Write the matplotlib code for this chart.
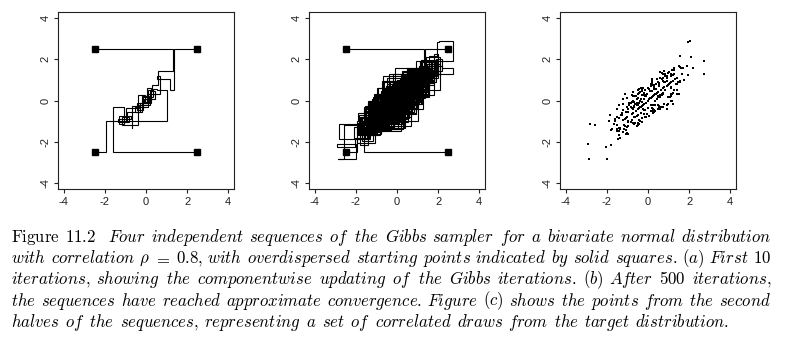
import re
import numpy as np
import matplotlib
matplotlib.use('Agg')
import matplotlib.pyplot as plt

plt.rcParams['font.family'] = 'Liberation Sans'
plt.rcParams['mathtext.fontset'] = 'cm'
plt.rcParams['axes.unicode_minus'] = False

# Four Gibbs chains, bivariate normal with rho = 0.8.
# Element 0 is the overdispersed starting point, then one (x, y) per iteration.
chain1_x = [-2.5, -1.95, 1.00, 0.55, 0.35, -0.15, -0.45, 0.05, 0.20, -0.35, -0.70,
            -0.60, -1.80, 0.20, 1.35, -0.80, 1.15, 1.80, -0.70, -1.55, 0.40,
            -1.25, -1.75, 0.10, -0.90, 1.20, 0.75, -1.05, 0.85, 1.95, 1.10,
            -0.50, -0.60, -0.70, -1.70, -2.10, -0.15, -0.25, 1.15, -0.60, 0.70,
            1.50, -0.40, -0.20, -1.75, -0.35, 0.80, -0.80, 0.50, 1.70, 2.00,
            0.25, 0.40, -1.10, 0.40, -0.15, 1.15, -0.60, -1.55, -1.30, -0.75,
            0.00, -1.15, 0.60, 1.45, -0.35, 1.00, -0.65, -0.50, -0.90, -1.55,
            0.60, -0.60, 0.80, 0.40, -1.20, -0.85, 0.60, -0.60, -1.75, -1.85,
            0.35, -0.75, 1.10, 0.20, -0.10, -0.50, 1.10, -0.45, -0.30, 1.15,
            1.50, -0.55, -1.40, 0.35, -1.40, -1.05, 0.60, 1.70, 0.90, 0.40,
            -0.10, -1.10, -0.25, 1.25, -0.50, -0.30, -1.65, 0.25, 0.45, 0.50,
            -0.90, -1.00, -1.80, -1.40, 0.30, 1.40, -0.50, 0.85, 2.10, 1.40,
            -0.20, -0.35, 0.00, -1.35, -0.20, 1.20, -0.80, -1.20, 0.80, 0.35,
            0.20, 1.20, 0.50, -0.95, -0.95, -0.80, 0.75, -0.75, 0.80, 1.65,
            -0.20, -0.50, -0.55, -0.65, -1.50, 0.20, 0.20, 1.25, 0.50, -0.85,
            0.55, -1.20, -0.50, 1.10, 0.00, 0.90, -0.75, -0.60, 0.75, 0.20]
chain1_y = [-2.5, -1.00, 0.50, 0.55, 0.15, -0.45, -0.10, 0.30, -0.20, -0.25, -1.35,
            -1.40, -0.85, 0.95, 0.10, 0.45, 1.40, 0.25, -0.95, -0.25, -0.80,
            -1.70, -1.10, -0.50, 0.60, 1.55, -0.30, -0.05, 1.20, 1.85, 0.10,
            -1.10, 0.40, -1.15, -1.85, -1.30, -0.80, 0.70, 0.60, -0.10, 1.25,
            0.40, -0.90, -1.05, -0.80, 0.50, -0.25, -0.25, 1.00, 1.85, 1.30,
            0.90, -0.60, -0.60, 0.80, 0.70, 0.40, -1.30, -1.85, -0.05, -1.00,
            -0.30, 0.00, 1.30, 0.55, 0.40, -0.20, -1.40, -0.10, -1.20, -0.35,
            0.10, 0.40, 1.25, -0.40, -1.55, 0.10, 0.00, -1.30, -1.70, -0.70,
            0.00, 0.40, 0.90, 0.75, -0.10, 0.10, 0.20, -1.15, -0.05, 1.50,
            0.30, -0.10, -0.20, 0.00, -1.70, -0.85, 1.40, 1.60, -0.40, 0.30,
            -0.10, 0.30, -0.40, 0.50, -0.10, -1.05, -1.15, -0.20, 0.35, -0.40,
            -0.10, -0.80, -2.15, -0.85, 0.75, 1.10, 0.30, 0.50, 2.10, 0.80,
            -0.45, 0.60, 0.00, -1.40, 0.05, -0.15, -0.65, -0.15, 0.90, -0.50,
            0.85, 1.25, -0.20, -1.00, -1.65, -0.65, -0.30, -0.40, 1.45, 1.30,
            -0.15, -1.20, -0.20, -1.10, -1.50, -0.35, 0.15, 1.60, 0.20, -0.30,
            -0.35, -0.95, 0.50, 0.60, 0.60, 0.95, -1.10, -0.50, 1.10, 0.45]

chain2_x = [2.5, -1.60, -1.05, -1.30, -0.75, -1.35, -0.90, -0.20, 0.15, -0.05, -0.40,
            -1.10, 0.65, -1.00, -1.60, 0.50, 0.40, -1.20, -1.90, -0.20, -1.15,
            0.80, 0.60, -1.20, 0.00, -1.35, -1.95, -1.05, 0.05, 0.25, 1.40,
            0.30, -0.85, -0.80, -0.70, 0.90, -0.55, -0.70, -1.70, 0.20, 0.00,
            -1.30, 0.20, -1.25, -1.95, -0.60, -0.15, 1.00, -0.70, -1.25, 0.60,
            -0.20, -1.10, -0.95, 0.65, -0.80, 0.50, 1.40, 1.90, -0.20, -0.40,
            -1.65, -0.85, -0.80, -0.45, 0.70, -0.90, 0.65, 0.40, -1.30, -1.10,
            -0.60, 0.95, 0.20, -0.90, -1.60, 0.35, -0.90, 0.65, 0.55, -1.00,
            -0.75, -1.90, -0.20, -1.20, -0.45, 1.05, -0.80, -1.35, -2.05, -2.90,
            -2.00, -2.85, -2.60, -1.45, -2.80, -0.30, -1.35, 0.40, -0.95, -0.50,
            0.90, -0.55, -0.55, -0.80, -0.95, -1.50, 0.30, -0.90, 0.75, 1.10,
            -0.70, -1.60, -0.75, -0.35, -1.20, 0.35, 1.10, -0.65, -1.60, -0.20,
            -1.05, 0.85, 0.35, -1.00, -1.80, -0.30, -1.50, 0.30, -0.10, -1.05,
            -1.00, -0.50, -0.20, 1.00, -0.50, -1.50, -0.80, -0.70, -0.55, -1.40,
            0.35, -0.85, 0.70, 0.25, -1.40, -0.70, -0.80, -0.20, 0.10, -0.15,
            -1.25, 0.20, -1.15, -0.70, 0.70, -0.60, -0.30, -0.50, -0.30, 0.75]
chain2_y = [-2.5, -0.30, -1.15, -0.75, -0.90, -1.05, -0.55, 0.20, -0.10, 0.25, -0.60,
            -0.20, -0.40, -1.40, -0.50, 0.90, -0.50, -1.65, -1.10, -0.95, 0.00,
            1.25, -0.40, -0.65, -0.80, -1.80, -2.05, -1.05, -0.55, 1.00, 1.40,
            -0.45, 0.10, -1.25, 0.35, 0.20, -1.35, -1.15, -0.85, 0.65, -0.90,
            -0.65, -0.45, -1.70, -1.35, -1.30, 0.50, 0.10, -0.95, -0.10, 0.90,
            -0.75, -1.70, 0.05, -0.10, -0.35, 1.10, 1.60, 0.90, 0.25, -1.20,
            -1.70, 0.00, -1.45, 0.25, -0.35, -0.20, 1.10, -0.50, -0.75, -1.50,
            0.30, 1.25, -0.35, -1.40, -0.70, -0.40, 0.20, 1.20, -0.35, -1.30,
            -0.60, -1.00, -0.15, 0.05, -0.10, 0.15, -0.95, -1.80, -2.25, -2.10,
            -2.85, -2.85, -1.20, -1.85, -1.15, -0.25, -1.35, 0.30, -1.25, -0.10,
            0.70, 0.05, -0.75, -0.05, -0.55, -0.40, 0.25, -0.20, 0.35, 0.00,
            -1.15, -1.00, 0.20, -0.30, -0.45, 0.55, 0.30, -0.80, -0.90, -0.15,
            -0.55, 1.20, 0.30, -1.60, -1.45, -0.85, -1.40, 0.65, 0.25, -1.65,
            0.10, -0.70, 0.35, 0.80, -1.10, -1.20, 0.25, -0.30, -1.25, -1.35,
            0.30, -0.10, 0.30, -0.60, -1.50, -0.25, -0.35, -0.65, 0.10, -0.80,
            -0.60, 0.15, -1.40, -0.25, 0.25, -0.50, 0.25, -0.20, 0.45, 0.30]

chain3_x = [-2.5, 1.30, 0.60, 0.30, 0.10, -0.55, -0.40, -1.15, -0.85, -0.95, -0.30,
            0.70, 1.45, 0.10, 1.35, 1.05, 0.65, 1.85, 0.90, 0.50, 0.65,
            -0.80, 0.70, 1.80, 0.25, 1.30, 2.10, 0.25, 0.40, 1.45, 0.25,
            0.35, 0.20, -0.20, 1.40, 1.80, -0.20, 0.95, -0.65, 0.70, 1.50,
            0.05, 1.40, 1.95, 1.15, -0.50, 0.85, 0.25, -0.15, 1.05, -0.50,
            0.60, 1.55, -0.10, 1.10, 0.70, -0.80, 0.55, 1.65, 1.80, -0.20,
            0.90, -0.50, -0.10, 1.05, 0.50, 0.15, 1.30, -0.20, 0.00, 1.35,
            0.90, 0.55, 0.15, -0.70, 0.80, 1.45, 1.80, 2.00, 0.30, -0.05,
            0.30, 1.55, 1.95, 2.05, 2.70, 1.10, 0.15, 0.20, 1.25, -0.40,
            1.10, 0.45, 0.15, 1.55, 0.20, 1.30, 0.95, -0.70, 0.85, 1.45,
            -0.35, 0.90, 0.25, 1.50, 1.95, 0.25, 0.40, 0.55, -0.80, 0.90,
            1.40, -0.20, 1.15, 0.50, 1.55, 1.10, -0.70, 0.65, 0.30, -0.05,
            1.20, 1.75, 0.00, -0.10, -0.15, 1.35, -0.25, 0.85, 0.85, -0.65,
            0.75, 1.55, 1.20, -0.40, 0.70, 0.60, -0.75, 0.80, 0.60, 1.70,
            -0.10, 0.80, -0.50, 1.00, 0.50, 0.45, 1.45, 0.35, 0.15, 1.15,
            -0.45, 0.80, 1.40, -0.35, 0.90, 0.55, 0.20, 1.20, -0.20, 0.70]
chain3_y = [2.5, 1.45, 0.75, 0.50, -0.30, -0.55, -1.20, -0.80, -1.05, -0.35, -0.15,
            1.05, 0.75, 0.80, 1.70, 0.05, 1.30, 1.90, 0.00, 1.30, -0.10,
            0.15, 1.15, 0.95, 0.90, 1.75, 1.30, -0.40, 1.20, 1.45, -0.30,
            1.00, -0.65, 0.75, 1.60, 0.85, 0.45, 0.05, -0.10, 1.35, 0.70,
            0.85, 1.70, 1.95, 0.10, 0.20, 1.20, -0.70, 0.70, 0.35, 0.00,
            1.20, 0.75, 0.50, 1.50, -0.25, 0.05, 1.05, 1.90, 0.75, 0.35,
            0.10, -1.00, 0.70, 1.35, -0.30, 1.00, 0.75, -0.65, 0.70, 1.60,
            -0.20, 1.05, -0.40, 0.25, 1.05, 1.75, 2.25, 1.10, 0.95, -0.65,
            0.25, 2.15, 2.85, 2.90, 1.90, 0.90, -0.20, 1.05, 1.30, 0.40,
            1.30, 0.35, 0.80, 0.95, 0.75, 1.05, -0.15, -0.30, 1.20, 0.90,
            0.05, -0.20, 0.20, 1.70, 1.25, -0.40, 0.55, -0.25, -0.65, 1.10,
            0.50, -0.15, 0.00, 0.15, 1.65, 1.20, -0.05, 0.50, -0.55, 0.30,
            0.95, 1.00, -0.35, -0.80, 0.20, 0.80, -0.20, 1.30, 0.90, 0.20,
            1.30, 0.90, 0.35, -0.30, 1.35, 0.25, 0.00, 0.65, 1.40, 1.60,
            0.20, -0.15, -0.40, 1.40, 0.40, 1.05, 0.90, -0.20, 0.45, 0.30,
            0.35, 0.65, 0.30, -0.60, 1.20, 0.75, 0.75, 0.95, 0.25, 0.30]

chain4_x = [2.5, 1.36, 1.15, 0.55, 0.70, 0.20, 0.45, -0.10, 0.05, 0.25, -0.30,
            0.20, -1.15, 0.60, 0.30, 0.05, 1.45, 0.65, -0.95, 0.70, -0.85,
            -0.70, 0.80, 1.90, 2.20, 0.55, -0.80, 0.60, -1.05, -1.70, -1.15,
            0.70, 0.45, -1.05, 0.45, 1.25, -0.55, -0.15, 1.15, 0.50, -0.75,
            0.80, 1.55, 1.20, -0.60, -0.65, -1.30, 0.35, 0.10, -0.25, 1.35,
            1.80, -0.05, -1.00, 0.50, 0.20, -1.25, 0.00, 0.15, 1.30, 0.55,
            0.30, 1.45, -0.40, -1.25, 0.40, -0.80, -0.60, 1.00, 1.45, -0.35,
            1.05, 0.70, -0.90, 0.45, -1.00, -1.60, 0.10, 1.00, -0.65, 0.95,
            0.60, 0.25, -1.00, 0.70, 0.35, -1.00, -0.45, 0.95, -0.70, -0.45,
            0.75, -0.95, -1.50, 0.15, 1.25, 1.90, 2.20, 2.70, 0.45, -0.85,
            0.30, -0.15, -0.20, -1.25, 0.15, -1.20, -1.75, 0.05, 1.25, 0.60,
            0.20, 0.05, -1.05, -0.65, 0.80, -0.80, 0.60, 1.60, 1.05, -0.50,
            -1.20, 0.40, -0.15, -0.25, 1.10, -0.45, -1.25, 0.20, 1.30, 0.65,
            -0.85, 0.60, 0.30, -1.15, -0.60, 0.75, 0.15, -1.10, 0.50, 1.20,
            -0.40, -0.30, 0.95, 0.05, -1.10, 0.70, 0.25, -1.00, 0.55, 1.25,
            -0.40, -1.30, 0.20, 0.20, 0.15, 1.05, 0.30, -0.95, 0.55, 0.10]
chain4_y = [2.5, 0.50, 1.05, 1.20, 0.30, 0.45, 0.05, -0.05, 0.60, -0.10, -0.50,
            -0.55, -0.40, 1.10, -0.55, 0.95, 1.55, -0.30, -0.15, -0.05, -1.40,
            0.35, 1.35, 2.00, 1.45, -0.35, -0.15, -0.20, -1.35, -1.95, 0.00,
            1.05, -0.45, -0.55, 0.95, 0.30, -0.95, 0.70, 1.50, -0.20, 0.10,
            1.05, 1.85, 0.15, 0.20, -1.10, -0.55, 0.90, -0.70, 0.70, 1.40,
            0.95, -0.65, -0.10, 1.00, -0.55, -0.60, -0.80, 0.90, 1.55, -0.25,
            1.05, 0.65, -0.80, -0.40, -0.40, -1.35, 0.40, 1.30, 0.45, 0.20,
            1.35, -0.35, -0.20, -0.35, -1.40, -0.90, 0.60, 0.20, 0.30, 1.35,
            0.15, -0.50, -0.80, 1.05, 0.00, -1.30, -0.35, 0.15, -0.80, 0.55,
            0.60, -0.40, -0.80, 0.10, 1.50, 1.70, 1.60, 1.30, 0.05, -1.05,
            0.55, 0.50, -0.15, -0.70, -0.20, -1.55, -1.40, 0.55, 1.30, -0.40,
            0.95, 0.05, -1.45, -0.15, -0.15, -0.65, 1.10, 1.60, 0.15, -0.10,
            -0.95, 0.80, -0.45, 0.60, 0.65, -0.95, -0.70, 0.85, 1.05, -0.30,
            -0.10, 0.15, -0.45, -1.20, 0.20, 0.95, -0.50, -0.90, 0.90, 0.95,
            0.00, 0.55, 0.75, -0.75, -1.25, 1.05, 0.20, -0.30, 0.70, 0.50,
            -1.00, -0.70, 0.85, 0.15, 0.70, 0.85, -0.45, -1.05, 0.85, 0.45]

chains = [(chain1_x, chain1_y), (chain2_x, chain2_y),
          (chain3_x, chain3_y), (chain4_x, chain4_y)]
n_first = 10  # iterations shown in (a)

tick_values = [-4, -2, 0, 2, 4]
tick_labels = ['-4', '-2', '0', '2', '4']

caption_lines = [
    ['Figure', '11.2', 'Four', 'independent', 'sequences', 'of', 'the', 'Gibbs', 'sampler',
     'for', 'a', 'bivariate', 'normal', 'distribution'],
    ['with', 'correlation', 'ρ', '=', '0.8,', 'with', 'overdispersed', 'starting', 'points',
     'indicated', 'by', 'solid', 'squares.', '(a)', 'First', '10'],
    ['iterations,', 'showing', 'the', 'componentwise', 'updating', 'of', 'the', 'Gibbs',
     'iterations.', '(b)', 'After', '500', 'iterations,'],
    ['the', 'sequences', 'have', 'reached', 'approximate', 'convergence.', 'Figure', '(c)',
     'shows', 'the', 'points', 'from', 'the', 'second'],
    ['halves', 'of', 'the', 'sequences,', 'representing', 'a', 'set', 'of', 'correlated',
     'draws', 'from', 'the', 'target', 'distribution.'],
]

W, H = 789, 343
fig = plt.figure(figsize=(W / 100, H / 100), dpi=100)


def gibbs_path(xs, ys):
    # componentwise update: move in x first, then in y
    px, py = [xs[0]], [ys[0]]
    for i in range(1, len(xs)):
        px += [xs[i], xs[i]]
        py += [ys[i - 1], ys[i]]
    return px, py


def style_axes(ax):
    ax.set_xlim(-4.28, 4.28)
    ax.set_ylim(-4.3, 4.3)
    ax.set_xticks(tick_values)
    ax.set_yticks(tick_values)
    ax.set_xticklabels(tick_labels)
    ax.set_yticklabels(tick_labels, rotation=90, va='center')
    ax.tick_params(direction='out', length=3, width=0.8, labelsize=8,
                   colors='#222222')
    ax.tick_params(axis='x', pad=2.5)
    ax.tick_params(axis='y', pad=2.5)
    for s in ax.spines.values():
        s.set_linewidth(0.8)
        s.set_color('#222222')


lefts = [58, 309, 560]
panels = [fig.add_axes([l / W, 1 - 189 / H, 176 / W, 177 / H]) for l in lefts]
ax_a, ax_b, ax_c = panels

line_kw = dict(color='black', lw=0.8, solid_joinstyle='miter')

for xs, ys in chains:
    # (a) first iterations
    px, py = gibbs_path(xs[:n_first + 1], ys[:n_first + 1])
    ax_a.plot(px, py, **line_kw)
    # (b) whole run
    px, py = gibbs_path(xs, ys)
    ax_b.plot(px, py, **line_kw)
    # (c) second half of each sequence, points only
    half = len(xs) // 2
    ax_c.plot(xs[half:], ys[half:], 's', ms=1.5, mew=0, color='black')

for ax in (ax_a, ax_b):
    ax.plot([c[0][0] for c in chains], [c[1][0] for c in chains], 's',
            ms=4.3, color='black', zorder=5)

for ax in panels:
    style_axes(ax)


# caption, set word by word and justified between the margins
def to_math(word, roman=False):
    if word == 'ρ':
        return r'$\rho$'
    if word == '=':
        return r'$=$'
    out = []
    for part in re.findall(r'[A-Za-z]+|[^A-Za-z]+', word):
        if part.isalpha() and not roman:
            out.append(r'\mathit{%s}' % part)
        else:
            out.append(r'\mathrm{%s}' % part)
    return '$' + ''.join(out) + '$'


fs = 12.1
left, right = 11, 771
baselines = [241.7 + 21.3 * i for i in range(len(caption_lines))]
renderer = fig.canvas.get_renderer()
gaps = []
for li, words in enumerate(caption_lines):
    texts = []
    for wi, w in enumerate(words):
        roman = (li == 0 and wi < 2)
        t = fig.text(0, 1 - baselines[li] / H, to_math(w, roman), fontsize=fs,
                     va='baseline', ha='left', color='black')
        texts.append(t)
    widths = [t.get_window_extent(renderer).width for t in texts]
    extra = [0.0] * len(words)
    if li == 0:
        extra[2] = 6.0
    if li < len(caption_lines) - 1:
        gap = (right - left - sum(widths) - sum(extra)) / (len(words) - 1)
        gaps.append(gap)
    else:
        gap = float(np.mean(gaps))
    x = left
    for t, w, e in zip(texts, widths, extra):
        x += e
        t.set_x(x / W)
        x += w + gap

fig.savefig('out.png', dpi=100)
